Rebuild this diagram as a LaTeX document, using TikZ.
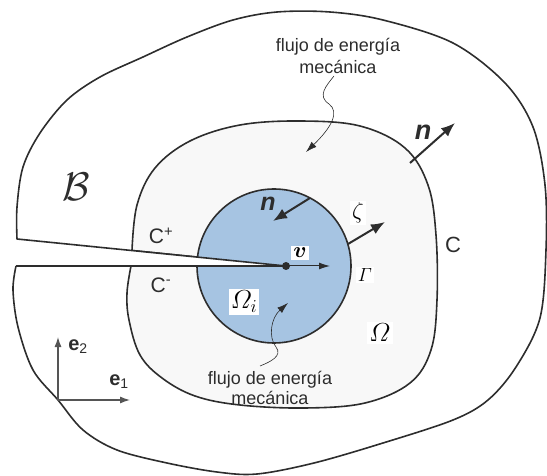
\RequirePackage{fix-cm}
\documentclass[tikz,border=0pt]{standalone}
\usepackage[no-math]{fontspec}
\setmainfont{Liberation Sans}
\usepackage{amsmath}
\usepackage{bm}
\usepackage{xcolor}
\usetikzlibrary{arrows.meta}
\definecolor{DiskBlue}{RGB}{166,196,226}
\definecolor{RegionGray}{RGB}{248,248,248}
\definecolor{InkGray}{RGB}{45,45,45}
\definecolor{AxisGray}{RGB}{85,85,85}

\begin{document}
\begin{tikzpicture}[x=1pt, y=-1pt,
    edge/.style={line width=1.6pt, InkGray, line join=round},
    vec/.style={line width=2pt, InkGray, -{Latex[length=14pt,width=11pt]}},
    flux/.style={line width=0.6pt, InkGray, -{Latex[length=11pt,width=7pt]}},
    axis/.style={line width=1.2pt, AxisGray, -{Latex[length=10pt,width=7pt]}},
    txt/.style={text=InkGray, inner sep=1pt},
    mlbl/.style={fill=white, inner sep=2pt}]
  \useasboundingbox (0,0) rectangle (547,476);
  % crack
  \coordinate (Tip) at (286,266);
  \coordinate (Up) at (17,239);
  \coordinate (Lo) at (16,266);
  \coordinate (Cup) at (132,250.5);
  \coordinate (Clo) at (131,266);
  \coordinate (O) at (274,266);
  % region Omega bounded by C
  \filldraw[edge, fill=RegionGray] plot[smooth, tension=0.6] coordinates {
      (Cup) (137,205) (155,168) (190,141) (240,125) (300,121) (360,126)
      (405,148) (428,185) (436,235) (437,300) (431,350) (410,383)
      (365,403) (305,408) (240,405) (195,396) (162,378) (140,355)
      (129,320) (127,293) (Clo)} -- (Tip) -- cycle;
  % inner disk Omega_i
  \filldraw[edge, fill=DiskBlue] (O) circle (77);
  \fill[white] (Up) -- (Tip) -- (Lo) -- cycle;
  % outer body
  \draw[edge] (Lo) -- (Tip) -- (Up) -- plot[smooth, tension=0.55] coordinates {
      (Up) (17,207) (23,167) (40,133) (67,100) (100,77) (143,57) (187,37)
      (233,20) (277,12) (330,12) (383,20) (453,43) (505,83) (533,127)
      (545,185) (546,250) (540,318) (516,367) (488,400) (453,420)
      (383,443) (314,463) (257,474) (217,472) (167,463) (117,450)
      (83,430) (58,400) (33,370) (18,327) (13,290) (Lo)};
  % vectors
  \coordinate (nout0) at (410,163);
  \coordinate (nout1) at (455,123);
  \draw[vec] (nout0) -- (nout1);
  \coordinate (nin0) at (310,198);
  \coordinate (nin1) at (273,221);
  \draw[vec] (nin0) -- (nin1);
  \coordinate (z0) at (348,244);
  \coordinate (z1) at (385,222);
  \draw[vec] (z0) -- (z1);
  \coordinate (v1) at (330,266);
  \draw[line width=1pt, InkGray, -{Latex[length=11pt,width=7pt]}] (Tip) -- (v1);
  \fill[InkGray] (Tip) circle (4);
  % energy flux
  \node[txt, align=center, font=\fontsize{18}{22}\selectfont] (fluxout) at (338,56)
    {flujo de energía\\mecánica};
  \node[txt, align=center, font=\fontsize{18}{20}\selectfont] (fluxin) at (270,388)
    {flujo de energía\\mecánica};
  \coordinate (f0) at (334,76);
  \coordinate (f1) at (306,152);
  \draw[flux] (f0) .. controls (326,86) and (317,96) .. (329,104)
    .. controls (340,112) and (331,128) .. (f1);
  \coordinate (g0) at (260,366);
  \coordinate (g1) at (288,303);
  \draw[flux] (g0) .. controls (270,362) and (283,356) .. (276,347)
    .. controls (268,337) and (271,318) .. (g1);
  % basis
  \coordinate (E) at (58,400);
  \coordinate (E1) at (130,400);
  \coordinate (E2) at (58,337);
  \draw[axis] (E) -- (E1);
  \draw[axis] (E) -- (E2);
  \node[txt, font=\fontsize{20}{22}\selectfont] (e1) at (119,382) {\textbf{e}\textsubscript{1}};
  \node[txt, font=\fontsize{20}{22}\selectfont] (e2) at (78,347) {\textbf{e}\textsubscript{2}};
  % labels
  \node[txt, font=\fontsize{27}{30}\selectfont] (noutl) at (423,132) {\textbf{\textit{n}}};
  \node[txt, font=\fontsize{25}{28}\selectfont] (ninl) at (268,204) {\textbf{\textit{n}}};
  \node[txt, font=\fontsize{22}{24}\selectfont] (Cl) at (453,245) {C};
  \node[txt, font=\fontsize{21}{24}\selectfont] (Cplus) at (161,236) {C\textsuperscript{+}};
  \node[txt, font=\fontsize{21}{24}\selectfont] (Cminus) at (161,285) {C\textsuperscript{-}};
  \node[txt, font=\fontsize{40}{44}\selectfont] (Bl) at (76,187) {$\mathcal{B}$};
  \node[mlbl, font=\fontsize{26}{28}\selectfont] (Oml) at (380,333) {$\varOmega$};
  \node[mlbl, font=\fontsize{26}{28}\selectfont] (Omil) at (244,302) {$\varOmega_i$};
  \node[mlbl, font=\fontsize{19}{22}\selectfont] (Gal) at (365,275) {$\varGamma$};
  \node[mlbl, font=\fontsize{23}{26}\selectfont] (zetal) at (358,213) {$\zeta$};
  \node[mlbl, font=\fontsize{22}{24}\selectfont] (vl) at (300,253) {$\bm{v}$};
\end{tikzpicture}
\end{document}
